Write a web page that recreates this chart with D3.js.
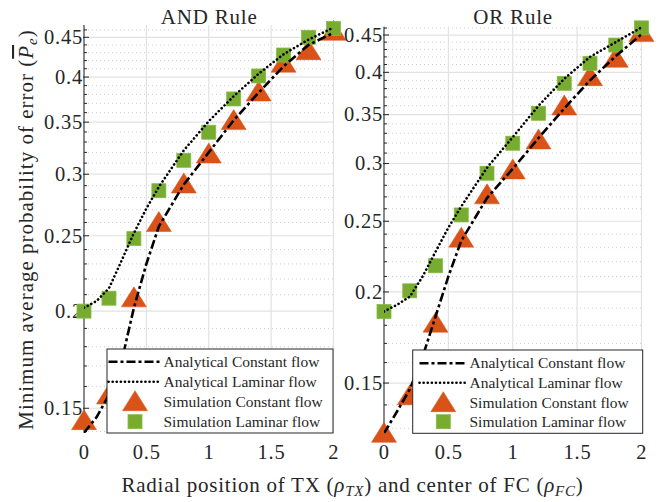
<!DOCTYPE html>
<html><head><meta charset="utf-8">
<script src="https://cdn.jsdelivr.net/npm/d3@7"></script>
<style>body{margin:0;background:#fff}svg{display:block}</style>
</head><body><svg id="c" width="662" height="502"></svg>
<script>
const rho = [0,0.2,0.4,0.6,0.8,1.0,1.2,1.4,1.6,1.8,2.0];
const andSimConstant = [0.1446,0.156,0.208,0.26,0.2914,0.3185,0.3516,0.3827,0.4167,0.4325,0.458];
const andSimLaminar  = [0.2,0.2078,0.2479,0.2857,0.3126,0.3397,0.3749,0.4013,0.427,0.45,0.462];
const orSimConstant  = [0.128,0.1441,0.1812,0.237,0.2717,0.294,0.3231,0.3597,0.3946,0.4181,0.4535];
const orSimLaminar   = [0.188,0.2007,0.2172,0.255,0.2909,0.3198,0.3515,0.3864,0.4116,0.436,0.4603];
const analyticRho = [0,0.1,0.2,0.3,0.4,0.5,0.6,0.8,1.0,1.2,1.4,1.6,1.8,2.0];
const andAnaConstant = [0.1395,0.146,0.156,0.172,0.202,0.23,0.257,0.291,0.320,0.352,0.382,0.413,0.440,0.456];
const andAnaLaminar  = [0.202,0.206,0.214,0.232,0.252,0.271,0.289,0.322,0.351,0.378,0.404,0.428,0.447,0.463];
const orAnaConstant  = [0.128,0.137,0.147,0.163,0.185,0.21,0.235,0.269,0.295,0.325,0.357,0.39,0.421,0.451];
const orAnaLaminar   = [0.188,0.192,0.197,0.21,0.227,0.245,0.262,0.296,0.326,0.36,0.392,0.42,0.44,0.461];
const xTicks = [0,0.5,1,1.5,2];
const xTickLabels = ["0","0.5","1","1.5","2"];
const yTicks = [0.15,0.2,0.25,0.3,0.35,0.4,0.45];
const yTickLabels = ["0.15","0.2","0.25","0.3","0.35","0.4","0.45"];
const yMinor = [0.13,0.14,0.16,0.17,0.18,0.19,0.21,0.22,0.23,0.24,0.26,0.27,0.28,0.29,0.31,0.32,0.33,0.34,0.36,0.37,0.38,0.39,0.41,0.42,0.43,0.44,0.46];
const titles = ["AND Rule","OR Rule"];
const legendLabels = ["Analytical Constant flow","Analytical Laminar flow","Simulation Constant flow","Simulation Laminar flow"];
const ORANGE = "#D95319", GREEN = "#77AC30", INK = "#262626";
const FONT = '"Liberation Serif"';

const svg = d3.select("#c");
const panels = [
  {title:titles[0], xr:[84,333.5], yr:[433,25], yd:[0.1394,0.4667], sc:andSimConstant, sl:andSimLaminar, ac:andAnaConstant, al:andAnaLaminar,
   leg:{x:107,y:349,w:226,h:84,l0:108.5,l1:160,m:135,t:163.5,rows:[361.7,381.7,401.7,421.7]}},
  {title:titles[1], xr:[384,641.5], yr:[433.3,26.7], yd:[0.128,0.462], sc:orSimConstant, sl:orSimLaminar, ac:orAnaConstant, al:orAnaLaminar,
   leg:{x:412.7,y:350,w:230,h:83.3,l0:419.5,l1:466.5,m:443.3,t:469.5,rows:[363.3,382.7,402.7,421.7]}}
];
const triPath = "M0,-10L12.5,10L-12.5,10Z";
function tri(g,x,y){ g.append("path").attr("d",triPath).attr("transform",`translate(${x},${y-1})`).attr("fill",ORANGE).attr("stroke",ORANGE).attr("stroke-width",0.5); }
function sq(g,x,y){ g.append("rect").attr("x",x-7).attr("y",y-7).attr("width",14).attr("height",14).attr("fill",GREEN).attr("stroke","#86bb45").attr("stroke-width",0.8); }
const dashConst = "9,3,3,3", dotLam = "0.1,4";

panels.forEach((p,i)=>{
  const x = d3.scaleLinear().domain([0,2]).range(p.xr);
  const y = d3.scaleLog().domain(p.yd).range(p.yr);
  const g = svg.append("g");
  const cid = "clip"+i;
  svg.append("clipPath").attr("id",cid).append("rect").attr("x",p.xr[0]).attr("y",p.yr[1]).attr("width",p.xr[1]-p.xr[0]).attr("height",p.yr[0]-p.yr[1]);
  const minors = yMinor.filter(v=>v>=p.yd[0]&&v<=p.yd[1]);
  g.selectAll(".mg").data(minors).enter().append("line")
    .attr("x1",p.xr[0]).attr("x2",p.xr[1]).attr("y1",d=>y(d)).attr("y2",d=>y(d))
    .attr("stroke","#cfcfcf").attr("stroke-width",1).attr("stroke-dasharray","1,3");
  g.selectAll(".yg").data(yTicks).enter().append("line")
    .attr("x1",p.xr[0]).attr("x2",p.xr[1]).attr("y1",d=>y(d)).attr("y2",d=>y(d))
    .attr("stroke","#e2e2e2").attr("stroke-width",1.2);
  g.selectAll(".xg").data(xTicks).enter().append("line")
    .attr("x1",d=>x(d)).attr("x2",d=>x(d)).attr("y1",p.yr[1]).attr("y2",p.yr[0])
    .attr("stroke","#e2e2e2").attr("stroke-width",1.2);
  g.append("line").attr("x1",p.xr[0]).attr("x2",p.xr[0]).attr("y1",p.yr[1]).attr("y2",p.yr[0]).attr("stroke",INK).attr("stroke-width",1);
  g.selectAll(".mt").data(minors).enter().append("line")
    .attr("x1",p.xr[0]).attr("x2",p.xr[0]+3).attr("y1",d=>y(d)).attr("y2",d=>y(d)).attr("stroke",INK);
  g.selectAll(".Mt").data(yTicks).enter().append("line")
    .attr("x1",p.xr[0]-1).attr("x2",p.xr[0]+5).attr("y1",d=>y(d)).attr("y2",d=>y(d)).attr("stroke",INK);
  g.selectAll(".yl").data(yTicks).enter().append("text")
    .attr("x",p.xr[0]-1).attr("y",d=>y(d)+6.8).attr("text-anchor","end").attr("font-family",FONT).attr("font-size",20.5).attr("letter-spacing",0.8).attr("fill",INK)
    .text((d,k)=>yTickLabels[k]);
  g.selectAll(".xl").data(xTicks).enter().append("text")
    .attr("x",d=>x(d)+0.4).attr("y",458.5).attr("text-anchor","middle").attr("font-family",FONT).attr("font-size",20.5).attr("letter-spacing",0.8).attr("fill",INK)
    .text((d,k)=>xTickLabels[k]);
  g.append("text").attr("x",(p.xr[0]+p.xr[1])/2+0.4).attr("y",23.5).attr("text-anchor","middle").attr("font-family",FONT).attr("font-size",21).attr("letter-spacing",0.8).attr("fill",INK).text(p.title);
  rho.forEach((r,k)=>tri(g,x(r),y(p.sc[k])));
  rho.forEach((r,k)=>sq(g,x(r),y(p.sl[k])));
  const ln = arr => d3.line().x((d,k)=>x(analyticRho[k])).y(d=>y(d))(arr);
  g.append("path").attr("d",ln(p.ac)).attr("clip-path",`url(#${cid})`).attr("fill","none").attr("stroke","#000").attr("stroke-width",2.6).attr("stroke-dasharray",dashConst);
  g.append("path").attr("d",ln(p.al)).attr("clip-path",`url(#${cid})`).attr("fill","none").attr("stroke","#000").attr("stroke-width",2.6).attr("stroke-dasharray",dotLam).attr("stroke-linecap","round");
  const L = p.leg;
  g.append("rect").attr("x",L.x).attr("y",L.y).attr("width",L.w).attr("height",L.h).attr("fill","#fff").attr("stroke",INK).attr("stroke-width",1);
  g.append("line").attr("x1",L.l0).attr("x2",L.l1).attr("y1",L.rows[0]).attr("y2",L.rows[0]).attr("stroke","#000").attr("stroke-width",2.6).attr("stroke-dasharray",dashConst);
  g.append("line").attr("x1",L.l0).attr("x2",L.l1).attr("y1",L.rows[1]).attr("y2",L.rows[1]).attr("stroke","#000").attr("stroke-width",2.6).attr("stroke-dasharray",dotLam).attr("stroke-linecap","round");
  tri(g,L.m,L.rows[2]);
  sq(g,L.m,L.rows[3]);
  legendLabels.forEach((t,k)=>g.append("text").attr("x",L.t).attr("y",L.rows[k]+5).attr("font-family",FONT).attr("font-size",15.5).attr("fill",INK).text(t));
});

const yl = svg.append("text").attr("transform","translate(33,229.5) rotate(-90)").attr("text-anchor","middle").attr("font-family",FONT).attr("font-size",21).attr("letter-spacing",1).attr("fill",INK);
yl.append("tspan").text("Minimum average probability of error (");
yl.append("tspan").attr("font-style","italic").style("text-decoration","overline").text("P");
yl.append("tspan").attr("font-style","italic").attr("font-size",15).attr("baseline-shift","-4").text("e");
yl.append("tspan").text(")");
const xl = svg.append("text").attr("x",352.5).attr("y",491.5).attr("text-anchor","middle").attr("font-family",FONT).attr("font-size",21).attr("letter-spacing",0.75).attr("fill",INK);
xl.append("tspan").text("Radial position of TX (");
xl.append("tspan").attr("font-style","italic").text("ρ");
xl.append("tspan").attr("font-style","italic").attr("font-size",15).attr("baseline-shift","-4").text("TX");
xl.append("tspan").text(") and center of FC (");
xl.append("tspan").attr("font-style","italic").text("ρ");
xl.append("tspan").attr("font-style","italic").attr("font-size",15).attr("baseline-shift","-4").text("FC");
xl.append("tspan").text(")");
</script></body></html>
